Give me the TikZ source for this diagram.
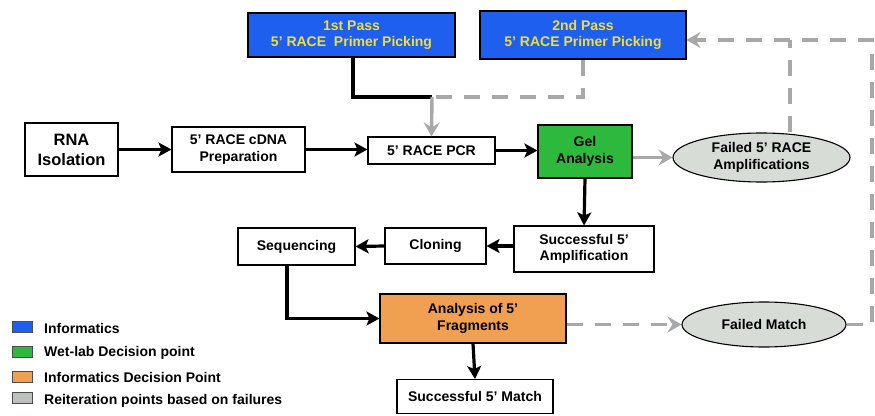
\documentclass[tikz,border=0pt]{standalone}
\usepackage{fontspec}
\setmainfont{Liberation Sans}
\usetikzlibrary{arrows.meta,shapes.geometric}
\definecolor{infoblue}{RGB}{30,95,240}
\definecolor{wetgreen}{RGB}{45,185,60}
\definecolor{decorange}{RGB}{240,160,80}
\definecolor{reitgray}{RGB}{215,220,215}
\definecolor{ytext}{RGB}{240,222,60}
\definecolor{linegray}{RGB}{168,168,168}
\tikzset{
  box/.style={draw=black, line width=1.1pt, fill=white, inner sep=0pt, align=center,
    font=\bfseries\fontsize{14}{16.5}\selectfont},
  bluebox/.style={box, fill=infoblue, text=ytext},
  oval/.style={ellipse, draw=black, line width=1.1pt, fill=reitgray, inner sep=0pt, align=center,
    font=\bfseries\fontsize{14}{16.5}\selectfont},
  blk/.style={line width=3.2pt, draw=black, -{Stealth[length=13pt,width=14pt,inset=3pt]}},
  blkline/.style={line width=3.2pt, draw=black},
  gry/.style={line width=3.4pt, draw=linegray, -{Stealth[length=14pt,width=16pt,inset=5pt]}},
  gryline/.style={line width=3.4pt, draw=linegray},
  dsh/.style={dash pattern=on 16pt off 12pt},
  legsq/.style={draw=black!70, line width=1pt, minimum width=20pt, minimum height=11pt, inner sep=0pt},
  legtxt/.style={anchor=west, inner sep=0pt, font=\bfseries\fontsize{14}{16}\selectfont}
}
\begin{document}
\begin{tikzpicture}[x=1pt,y=-1pt]
\useasboundingbox[fill=white] (0,0) rectangle (875,415);
% nodes
\node[bluebox, minimum width=207, minimum height=44] (p1) at (351.5,35) {1st Pass\\5' RACE\ \ Primer Picking};
\node[bluebox, minimum width=206, minimum height=48] (p2) at (583,35) {2nd Pass\\5' RACE Primer Picking};
\node[box, minimum width=93, minimum height=53, font=\bfseries\fontsize{16.5}{20}\selectfont] (rna) at (71.5,149.5) {RNA\\Isolation};
\node[box, minimum width=133, minimum height=45] (cdna) at (238.5,149.5) {5' RACE cDNA\\Preparation};
\node[box, minimum width=127, minimum height=27] (pcr) at (431.5,150.5) {5' RACE PCR};
\node[box, fill=wetgreen, minimum width=94, minimum height=53] (gel) at (585,151.5) {Gel\\Analysis};
\node[oval, minimum width=177, minimum height=49] (fail1) at (761.5,157.5) {Failed 5' RACE\\Amplifications};
\node[box, minimum width=140, minimum height=46] (succ) at (584,249) {Successful 5'\\Amplification};
\node[box, minimum width=101, minimum height=36] (clon) at (435.5,246) {Cloning};
\node[box, minimum width=117, minimum height=37] (seq) at (296.5,246.5) {Sequencing};
\node[box, fill=decorange, minimum width=186, minimum height=49] (ana) at (473,318.5) {Analysis of 5'\\Fragments};
\node[oval, minimum width=164, minimum height=45] (fmatch) at (764,324.5) {Failed Match};
\node[box, minimum width=156, minimum height=34, anchor=north] (match) at (475,379) {Successful 5' Match};
\coordinate (j) at (432,97);
\coordinate (rc) at (872,324.5);
\coordinate (tj) at (790,40);
% connectors
\draw[blk] (rna.east) -- (cdna.west);
\draw[blk] (cdna.east) -- (pcr.west |- cdna.east);
\draw[blk] (pcr.east) -- (gel.west |- pcr.east);
\draw[gry] (gel.east |- fail1.west) -- (fail1.west);
\draw[blkline] ([xshift=1.5pt]p1.south) |- (j);
\draw[gryline, dsh] (p2.south) |- (j);
\draw[gry] (j) -- (pcr.north);
\draw[blk] (gel.south) -- (succ.north);
\draw[blk] (succ.west |- clon.east) -- (clon.east);
\draw[blk] (clon.west) -- (seq.east);
\draw[blk] ([xshift=-9.5pt]seq.south) |- (ana.west);
\draw[blk] (ana.south) -- (match.north);
\draw[gry, dsh] (ana.east |- fmatch.west) -- (fmatch.west);
\draw[gryline, dsh] ([xshift=28.5pt]fail1.north) -- (tj);
\draw[gry, dsh] (fmatch.east) -- (rc) |- (p2.east |- tj);
% legend
\node[legsq, fill=infoblue] (l1) at (22,327) {};
\node[legsq, fill=wetgreen] (l2) at (22,352) {};
\node[legsq, fill=decorange] (l3) at (22,377) {};
\node[legsq, fill=reitgray!70!gray] (l4) at (22,398) {};
\node[legtxt] (t1) at (44,328) {Informatics};
\node[legtxt] (t2) at (44,353) {Wet-lab Decision point};
\node[legtxt] (t3) at (44,377) {Informatics Decision Point};
\node[legtxt] (t4) at (44,401) {Reiteration points based on failures};
\end{tikzpicture}
\end{document}
